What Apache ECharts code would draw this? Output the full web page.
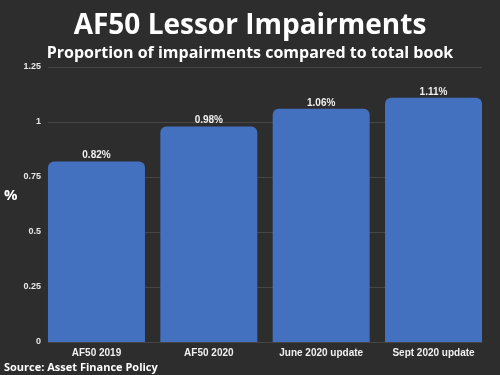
<!DOCTYPE html>
<html><head><meta charset="utf-8">
<script src="https://cdn.jsdelivr.net/npm/echarts@6/dist/echarts.min.js"></script>
<style>html,body{margin:0;padding:0;background:#2d2d2d;}#c{width:500px;height:375px;}</style>
</head><body><div id="c"></div>
<script>
const categories = ['AF50 2019', 'AF50 2020', 'June 2020 update', 'Sept 2020 update'];
const impairments = [0.82, 0.98, 1.06, 1.11];
const yTicks = [0, 0.25, 0.5, 0.75, 1, 1.25];

const chart = echarts.init(document.getElementById('c'));
chart.setOption({
  backgroundColor: '#2d2d2d',
  animation: false,
  title: [
    {text: 'AF50 Lessor Impairments', left: 'center', top: 12, padding: 0,
     textStyle: {color: '#ffffff', fontFamily: 'Open Sans', fontWeight: 'bold', fontSize: 28}},
    {text: 'Proportion of impairments compared to total book', left: 'center', top: 45, padding: 0,
     textStyle: {color: '#ffffff', fontFamily: 'Open Sans', fontWeight: 'bold', fontSize: 16}},
    {text: 'Source: Asset Finance Policy', left: 4, top: 362, padding: 0,
     textStyle: {color: '#ffffff', fontFamily: 'Open Sans', fontWeight: 'bold', fontSize: 11}},
    {text: '%', left: 4, top: 188, padding: 0,
     textStyle: {color: '#ffffff', fontFamily: 'Open Sans', fontWeight: 'bold', fontSize: 15}}
  ],
  grid: [
    {left: 48, right: 18, top: 67, bottom: 33},
    {left: 40.3, right: 10.3, top: 67, bottom: 33}
  ],
  xAxis: [
    {type: 'category', gridIndex: 0, data: categories, show: false},
    {type: 'category', gridIndex: 1, data: categories,
     axisLine: {show: false}, axisTick: {show: false},
     axisLabel: {color: '#f0f0f0', fontFamily: 'Liberation Sans', fontWeight: 'bold', fontSize: 10, margin: 6}}
  ],
  yAxis: [
    {type: 'value', gridIndex: 0, min: 0, max: 1.25, interval: 0.25,
     axisLine: {show: false}, axisTick: {show: false},
     axisLabel: {color: '#e8e8e8', fontFamily: 'Liberation Sans', fontWeight: 'bold', fontSize: 9, margin: 7,
       formatter: v => String(+v.toFixed(2))},
     splitLine: {lineStyle: {color: '#464646', width: 1}}},
    {type: 'value', gridIndex: 1, min: 0, max: 1.25, interval: 0.25, show: false, splitLine: {show: false}}
  ],
  series: [{
    type: 'bar', xAxisIndex: 1, yAxisIndex: 1,
    data: impairments,
    barWidth: 97,
    itemStyle: {color: '#4470c0', borderRadius: [6, 6, 0, 0]},
    label: {show: true, position: 'top', distance: 1, color: '#f0f0f0',
      fontFamily: 'Liberation Sans', fontWeight: 'bold', fontSize: 10,
      formatter: p => p.value.toFixed(2) + '%'}
  }]
});
</script></body></html>
